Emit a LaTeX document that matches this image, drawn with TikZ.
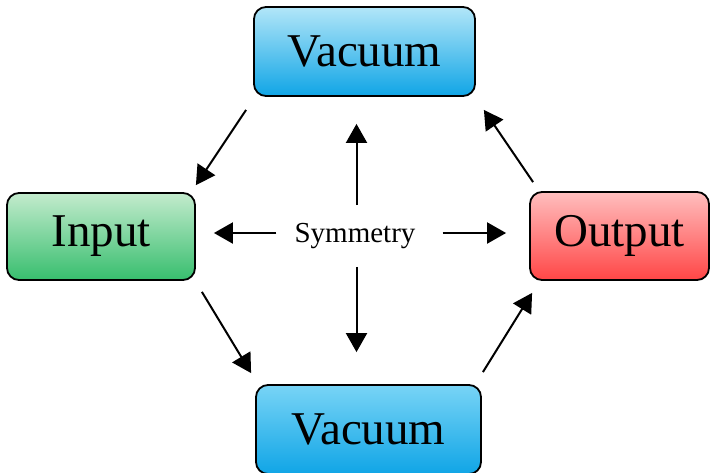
\documentclass[tikz,border=0pt]{standalone}
\usepackage{fontspec}
\setmainfont{Liberation Serif}
\usetikzlibrary{positioning,arrows.meta}

\definecolor{vactop}{HTML}{B2E6F8}
\definecolor{vacbot}{HTML}{10A5E6}
\definecolor{vbtop}{HTML}{78D4F6}
\definecolor{intop}{HTML}{C3EBCD}
\definecolor{inbot}{HTML}{37BE6E}
\definecolor{outtop}{HTML}{FFBEBE}
\definecolor{outbot}{HTML}{FF4646}

\begin{document}
\begin{tikzpicture}[x=1pt,y=-1pt,
	box/.style={draw=black,line width=1.8pt,rounded corners=12pt,inner sep=0pt,
		font=\fontsize{47}{50}\selectfont},
	arr/.style={line width=2pt,-{Triangle[length=19pt,width=21pt]}}]
	\clip (0,0) rectangle (710,472);
	\node[box,top color=vactop,bottom color=vacbot,minimum width=221pt,minimum height=89pt] (VT) at (364.5,51.5) {Vacuum};
	\node[box,top color=intop,bottom color=inbot,minimum width=188pt,minimum height=87pt] (In) at (101,236.5) {Input};
	\node[box,top color=outtop,bottom color=outbot,minimum width=179pt,minimum height=88pt] (Out) at (619.5,236) {Output};
	\node[box,top color=vbtop,bottom color=vacbot,minimum width=225pt,minimum height=89pt] (VB) at (368.5,429.5) {Vacuum};
	\node[inner sep=0pt,font=\fontsize{29}{32}\selectfont] (Sym) at (355,236) {Symmetry};
	% around the ring
	\draw[arr] ([xshift=-7pt,yshift=-13pt]VT.south west) -- ([yshift=7pt]In.north east);
	\draw[arr] ([xshift=6pt,yshift=-11pt]In.south east) -- ([xshift=-4pt,yshift=11pt]VB.north west);
	\draw[arr] ([xshift=1pt,yshift=12pt]VB.north east) -- ([xshift=3pt,yshift=-12pt]Out.south west);
	\draw[arr] ([xshift=4pt,yshift=9pt]Out.north west) -- ([xshift=8pt,yshift=-13pt]VT.south east);
	% out of the middle
	\draw[arr,shorten <=18pt,shorten >=27pt] ([xshift=1.5pt]Sym.north) -- ([xshift=1.5pt]Sym.north |- VT.south);
	\draw[arr,shorten <=18pt,shorten >=32pt] ([xshift=1.5pt]Sym.south) -- ([xshift=1.5pt]Sym.south |- VB.north);
	\draw[arr,shorten <=18pt,shorten >=18pt] ([yshift=3pt]Sym.west) -- ([yshift=3pt]Sym.west -| In.east);
	\draw[arr,shorten <=27pt,shorten >=23pt] ([yshift=3pt]Sym.east) -- ([yshift=3pt]Sym.east -| Out.west);
\end{tikzpicture}
\end{document}
